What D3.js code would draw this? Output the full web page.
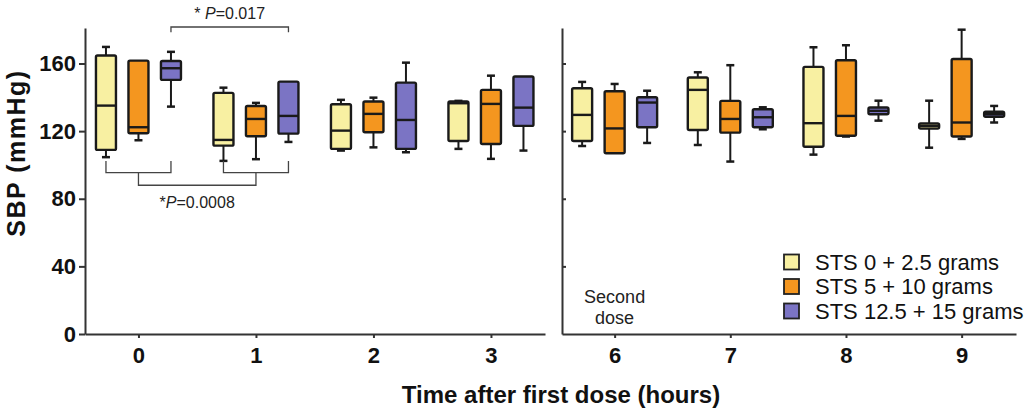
<!DOCTYPE html>
<html>
<head>
<meta charset="utf-8">
<script src="https://cdn.jsdelivr.net/npm/d3@7"></script>
<style>
    body { margin: 0; background: #fff; }
    svg { font-family: "Liberation Sans", Arial, sans-serif; }
    .axis path, .axis line { stroke: #333; stroke-width: 2; }
    .axis text { font-size: 22px; font-weight: bold; fill: #111; }
</style>
</head>
<body>
<svg id="chart" width="1030" height="410"></svg>
<script>
// time points, split in two panels
const timesLeft = [0, 1, 2, 3];
const timesRight = [6, 7, 8, 9];
const seriesNames = ["STS 0 + 2.5 grams", "STS 5 + 10 grams", "STS 12.5 + 15 grams"];
const seriesColors = ["#f8f0a2", "#f4961f", "#7b74c4"];

// [low whisker, q1, median, q3, high whisker] for times 0,1,2,3,6,7,8,9
const sts0 = [
    [104.6, 108.9, 135.1, 164.7, 169.8],
    [102.4, 111.4, 114.8, 142.6, 145.7],
    [108.5, 109.5, 120.3, 135.9, 138.5],
    [109.5, 114.2, 136.5, 137.5, 137.9],
    [111.2, 114.2, 129.6, 145.4, 149.1],
    [111.8, 120.7, 144.4, 151.7, 154.8],
    [106.1, 110.8, 124.7, 158.0, 169.6],
    [110.2, 121.5, 123.0, 124.5, 138.0]
];
const sts5 = [
    [114.6, 118.7, 122.3, 161.7, 161.7],
    [103.4, 117.0, 127.2, 134.9, 136.7],
    [110.4, 119.3, 130.2, 137.5, 139.8],
    [103.6, 112.4, 136.1, 144.4, 152.8],
    [106.9, 106.9, 121.6, 143.6, 147.9],
    [102.0, 119.1, 127.2, 137.9, 159.0],
    [116.8, 117.3, 129.0, 161.9, 170.8],
    [115.4, 116.8, 125.1, 162.7, 180.0]
];
const sts125 = [
    [134.5, 150.3, 157.2, 161.5, 166.9],
    [113.6, 118.5, 129.0, 149.3, 149.3],
    [107.5, 109.5, 126.6, 148.7, 160.5],
    [108.5, 123.1, 133.9, 152.3, 152.3],
    [113.0, 122.3, 136.9, 140.0, 143.9],
    [121.1, 122.3, 128.2, 132.9, 134.1],
    [126.2, 130.0, 132.0, 134.0, 138.0],
    [125.1, 128.5, 130.0, 131.5, 134.9]
];
const yTicks = [0, 40, 80, 120, 160];

const allSeries = [sts0, sts5, sts125];
const allTimes = timesLeft.concat(timesRight);

const svg = d3.select("#chart");

const y = d3.scaleLinear().domain([0, 181]).range([334, 28]);

// two panels share the y scale
const xLeft = d3.scaleLinear().domain([-0.455, 3.46]).range([85, 545]);
const xRight = d3.scaleLinear().domain([5.545, 9.47]).range([562, 1016]);
const xOf = t => t < 5 ? xLeft(t) : xRight(t);

const groupGap = 32.5;
const boxW = 20;
const capW = 8;

// axes
svg.append("g")
    .attr("class", "axis")
    .attr("transform", "translate(0,334)")
    .call(d3.axisBottom(xLeft).tickValues(timesLeft).tickFormat(d3.format("d"))
        .tickSize(4).tickSizeOuter(0).tickPadding(9));

svg.append("g")
    .attr("class", "axis")
    .attr("transform", "translate(0,334)")
    .call(d3.axisBottom(xRight).tickValues(timesRight).tickFormat(d3.format("d"))
        .tickSize(4).tickSizeOuter(0).tickPadding(9));

svg.append("g")
    .attr("class", "axis")
    .attr("transform", "translate(85,0)")
    .call(d3.axisLeft(y).tickValues(yTicks).tickSize(6).tickSizeOuter(0).tickPadding(3));

const rightAxis = svg.append("g")
    .attr("class", "axis")
    .attr("transform", "translate(562,0)")
    .call(d3.axisRight(y).tickValues(yTicks.slice(1)).tickSize(4).tickSizeOuter(0));
rightAxis.selectAll("text").remove();
rightAxis.selectAll(".tick line").attr("stroke-width", 1.5);

// boxes
const boxes = [];
allSeries.forEach((rows, si) => {
    rows.forEach((v, ti) => {
        boxes.push({ s: si, t: allTimes[ti], v: v });
    });
});

const g = svg.append("g")
    .selectAll(".box")
    .data(boxes)
    .enter()
    .append("g")
    .attr("class", "box")
    .attr("transform", d => `translate(${xOf(d.t) + (d.s - 1) * groupGap},0)`);

g.each(function (d) {
    const el = d3.select(this);
    const [lo, q1, med, q3, hi] = d.v;
    if (hi - q3 > 0.2) {
        el.append("line").attr("x1", 0).attr("x2", 0).attr("y1", y(q3)).attr("y2", y(hi))
            .attr("stroke", "#1a1a1a").attr("stroke-width", 2);
        el.append("line").attr("x1", -capW / 2).attr("x2", capW / 2).attr("y1", y(hi)).attr("y2", y(hi))
            .attr("stroke", "#1a1a1a").attr("stroke-width", 2.5);
    }
    if (q1 - lo > 0.2) {
        el.append("line").attr("x1", 0).attr("x2", 0).attr("y1", y(q1)).attr("y2", y(lo))
            .attr("stroke", "#1a1a1a").attr("stroke-width", 2);
        el.append("line").attr("x1", -capW / 2).attr("x2", capW / 2).attr("y1", y(lo)).attr("y2", y(lo))
            .attr("stroke", "#1a1a1a").attr("stroke-width", 2.5);
    }
    el.append("rect")
        .attr("x", -boxW / 2)
        .attr("y", y(q3))
        .attr("width", boxW)
        .attr("height", y(q1) - y(q3))
        .attr("rx", 1.5)
        .attr("fill", seriesColors[d.s])
        .attr("stroke", "#1a1a1a")
        .attr("stroke-width", 2.4);
    el.append("line").attr("x1", -boxW / 2).attr("x2", boxW / 2).attr("y1", y(med)).attr("y2", y(med))
        .attr("stroke", "#1a1a1a").attr("stroke-width", 2.4);
});

// significance brackets
const bx = (t, s) => xOf(t) + (s - 1) * groupGap;
const br = svg.append("g").attr("fill", "none").attr("stroke", "#444").attr("stroke-width", 1.3);

br.append("path")
    .attr("d", `M${bx(0, 2)},${y(178.5)}V${y(181.6)}H${bx(1, 2)}V${y(178.5)}`);
br.append("path")
    .attr("d", `M${bx(0, 0)},${y(102.4)}V${y(95.4)}H${bx(0, 2)}V${y(102.4)}`);
br.append("path")
    .attr("d", `M${bx(1, 0)},${y(102.4)}V${y(95.4)}H${bx(1, 2)}V${y(102.4)}`);
const midA = (bx(0, 0) + bx(0, 2)) / 2;
const midB = (bx(1, 0) + bx(1, 2)) / 2;
br.append("path")
    .attr("d", `M${midA},${y(95.4)}V${y(88)}H${midB}V${y(95.4)}`);

const pText = (x0, y0, star, val) => {
    const t = svg.append("text")
        .attr("x", x0).attr("y", y0)
        .attr("text-anchor", "middle")
        .attr("font-size", 16)
        .attr("fill", "#222");
    t.append("tspan").text(star);
    t.append("tspan").attr("font-style", "italic").text("P");
    t.append("tspan").text(val);
};
pText((bx(0, 2) + bx(1, 2)) / 2, 19, "* ", "=0.017");
pText((midA + midB) / 2, 208, "*", "=0.0008");

// second dose note
svg.append("text")
    .attr("x", xRight(6)).attr("y", 303)
    .attr("text-anchor", "middle").attr("font-size", 18).attr("fill", "#222")
    .text("Second");
svg.append("text")
    .attr("x", xRight(6)).attr("y", 324)
    .attr("text-anchor", "middle").attr("font-size", 18).attr("fill", "#222")
    .text("dose");

// legend
const legend = svg.append("g")
    .selectAll(".leg")
    .data(seriesNames)
    .enter()
    .append("g")
    .attr("transform", (d, i) => `translate(784,${262 + i * 24.5})`);

legend.append("rect")
    .attr("x", 0).attr("y", -7.5)
    .attr("width", 15).attr("height", 15)
    .attr("fill", (d, i) => seriesColors[i])
    .attr("stroke", "#222").attr("stroke-width", 1.8);

legend.append("text")
    .attr("x", 31).attr("y", 0).attr("dy", "0.36em")
    .attr("font-size", 22).attr("fill", "#111")
    .text(d => d);

// axis titles
svg.append("text")
    .attr("x", 561).attr("y", 403)
    .attr("text-anchor", "middle")
    .attr("font-size", 24).attr("font-weight", "bold").attr("fill", "#111")
    .text("Time after first dose (hours)");

svg.append("text")
    .attr("transform", "translate(25,153) rotate(-90)")
    .attr("text-anchor", "middle")
    .attr("font-size", 25).attr("font-weight", "bold").attr("fill", "#111")
    .attr("letter-spacing", 1.5)
    .text("SBP (mmHg)");
</script>
</body>
</html>
